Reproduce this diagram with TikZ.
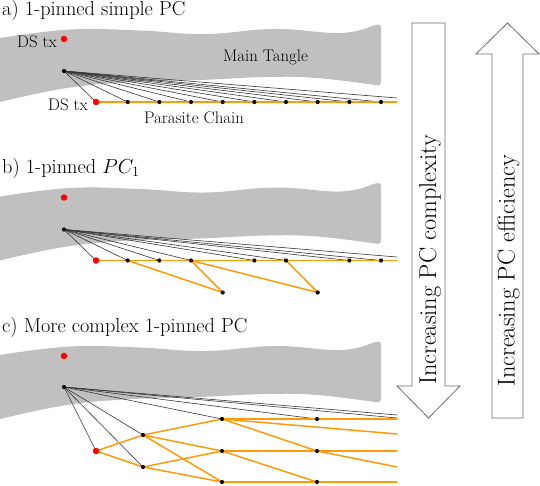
\RequirePackage{fix-cm}
\documentclass[tikz,border=0pt]{standalone}
\definecolor{tanglegray}{RGB}{192,192,192}
\definecolor{pcorange}{RGB}{255,155,10}
\definecolor{hubgray}{RGB}{55,55,55}
\definecolor{arrowgray}{RGB}{110,110,110}
\pgfdeclarelayer{bg}
\pgfdeclarelayer{lines}
\pgfsetlayers{bg,lines,main}
\tikzset{
  reddot/.style={circle, fill=red, inner sep=0pt, minimum size=6.5pt},
  blackdot/.style={circle, fill=black, inner sep=0pt, minimum size=4.2pt},
  hubline/.style={draw=hubgray, line width=0.6pt},
  chainline/.style={draw=pcorange, line width=1.5pt},
  lab/.style={inner sep=0pt, font=\fontsize{16.8}{20}\selectfont},
  titlelab/.style={inner sep=0pt, anchor=base west, font=\fontsize{20.3}{24}\selectfont},
  arrowtext/.style={inner sep=0pt, anchor=west, rotate=90, font=\fontsize{24.3}{28}\selectfont},
  bigarrow/.style={draw=arrowgray, line width=0.8pt, fill=white},
  tangleband/.pic={
    \fill[tanglegray] plot[smooth,tension=0.7] coordinates {(0,38) (70,29.5) (140,30.5) (205,34) (275,29) (340,33) (372,26)}
      .. controls (378,24) and (381,23.5) .. (381,28) -- (381,81)
      .. controls (381,85) and (379,86) .. (375,85)
      -- plot[smooth,tension=0.7] coordinates {(375,85) (317,78) (267,77) (200,80) (133,82) (67,88) (0,102)} -- cycle;
  }
}
\begin{document}
\begin{tikzpicture}[x=1pt,y=-1pt]
\useasboundingbox (0,0) rectangle (540,485);

% ---------------- panel a ----------------
\begin{pgfonlayer}{bg}
  \pic at (0,0) {tangleband};
\end{pgfonlayer}
\node[titlelab] (a-title) at (2,15) {a) 1-pinned simple PC};
\node[reddot] (a-top) at (64,39) {};
\node[blackdot] (a-hub) at (64,71) {};
\node[reddot] (a-red) at (96,102) {};
\foreach \i in {1,...,9} \node[blackdot] (a-d\i) at ({96+31.67*\i},102) {};
\coordinate (a-end) at (397,102);
\coordinate (a-far) at (397,98);
\node[lab, anchor=east] (a-toplab) at (57,41.5) {DS tx};
\node[lab, anchor=east] (a-redlab) at (88,104.5) {DS tx};
\node[lab] (a-main) at (265.5,57.5) {Main Tangle};
\node[lab] (a-pc) at (194,118) {Parasite Chain};
\begin{pgfonlayer}{lines}
  \foreach \t in {a-red,a-d1,a-d2,a-d3,a-d4,a-d5,a-d6,a-d7,a-d8,a-d9}
    \draw[hubline] (a-hub.center) -- (\t.center);
  \draw[hubline] (a-hub.center) -- (a-far);
  \draw[chainline] (a-red.center) -- (a-end);
\end{pgfonlayer}

% ---------------- panel b ----------------
\begin{scope}[shift={(0,158.5)}]
\begin{pgfonlayer}{bg}
  \pic at (0,0) {tangleband};
\end{pgfonlayer}
\node[titlelab] (b-title) at (2,15) {b) 1-pinned $PC_1$};
\node[reddot] (b-top) at (64,39) {};
\node[blackdot] (b-hub) at (64,71) {};
\node[reddot] (b-red) at (96,102) {};
\foreach \i in {1,2,3,5,6,8,9} \node[blackdot] (b-d\i) at ({96+31.67*\i},102) {};
\node[blackdot] (b-l4) at ({96+31.67*4},134) {};
\node[blackdot] (b-l7) at ({96+31.67*7},134) {};
\coordinate (b-end) at (397,102);
\coordinate (b-far) at (397,98.5);
\begin{pgfonlayer}{lines}
  \foreach \t in {b-red,b-d1,b-d2,b-d3,b-d5,b-d6,b-d8,b-d9}
    \draw[hubline] (b-hub.center) -- (\t.center);
  \draw[hubline] (b-hub.center) -- (b-far);
  \draw[chainline] (b-red.center) -- (b-end);
  \draw[chainline] (b-d1.center) -- (b-l4.center);
  \draw[chainline] (b-d3.center) -- (b-l4.center);
  \draw[chainline] (b-d3.center) -- (b-l7.center);
  \draw[chainline] (b-d6.center) -- (b-l7.center);
\end{pgfonlayer}
\end{scope}

% ---------------- panel c ----------------
\begin{scope}[shift={(0,317)}]
\begin{pgfonlayer}{bg}
  \pic at (0,0) {tangleband};
\end{pgfonlayer}
\node[titlelab] (c-title) at (2,15) {c) More complex 1-pinned PC};
\node[reddot] (c-top) at (64,39) {};
\node[blackdot] (c-hub) at (64,70) {};
\node[reddot] (c-red) at (96,134) {};
\node[blackdot] (c-1a) at (143,118) {};
\node[blackdot] (c-1b) at (143,150) {};
\node[blackdot] (c-2a) at (222,102) {};
\node[blackdot] (c-2b) at (222,134) {};
\node[blackdot] (c-2c) at (222,165) {};
\node[blackdot] (c-3a) at (317,102) {};
\node[blackdot] (c-3b) at (317,134) {};
\node[blackdot] (c-3c) at (317,165) {};
\coordinate (c-e1) at (397,102);
\coordinate (c-e2) at (397,117);
\coordinate (c-e3) at (397,134);
\coordinate (c-e4) at (397,150);
\coordinate (c-e5) at (397,165);
\coordinate (c-far) at (397,98);
\coordinate (c-far2) at (397,101);
\begin{pgfonlayer}{lines}
  \foreach \t in {c-red,c-1a,c-1b,c-2a,c-3a}
    \draw[hubline] (c-hub.center) -- (\t.center);
  \draw[hubline] (c-hub.center) -- (c-far);
  \draw[hubline] (c-hub.center) -- (c-far2);
  \draw[chainline] (c-red.center) -- (c-1a.center);
  \draw[chainline] (c-red.center) -- (c-1b.center);
  \draw[chainline] (c-1a.center) -- (c-2a.center);
  \draw[chainline] (c-1a.center) -- (c-2b.center);
  \draw[chainline] (c-1a.center) -- (c-2c.center);
  \draw[chainline] (c-1b.center) -- (c-2b.center);
  \draw[chainline] (c-1b.center) -- (c-2c.center);
  \draw[chainline] (c-2a.center) -- (c-e1);
  \draw[chainline] (c-2a.center) -- (c-e2);
  \draw[chainline] (c-2a.center) -- (c-3b.center);
  \draw[chainline] (c-2b.center) -- (c-e3);
  \draw[chainline] (c-2b.center) -- (c-3c.center);
  \draw[chainline] (c-3b.center) -- (c-e4);
  \draw[chainline] (c-2c.center) -- (c-e5);
\end{pgfonlayer}
\end{scope}

% ---------------- big arrows ----------------
\draw[bigarrow] (412,23) -- (445,23) -- (445,386) -- (460,386) -- (428.5,418)
  -- (397,386) -- (412,386) -- cycle;
\node[arrowtext] (down-text) at (430,385) {Increasing PC complexity};
\draw[bigarrow] (507.5,23) -- (539,54) -- (523,54) -- (523,418) -- (492,418)
  -- (492,54) -- (476,54) -- cycle;
\node[arrowtext] (up-text) at (508.5,387) {Increasing PC efficiency};
\end{tikzpicture}
\end{document}
